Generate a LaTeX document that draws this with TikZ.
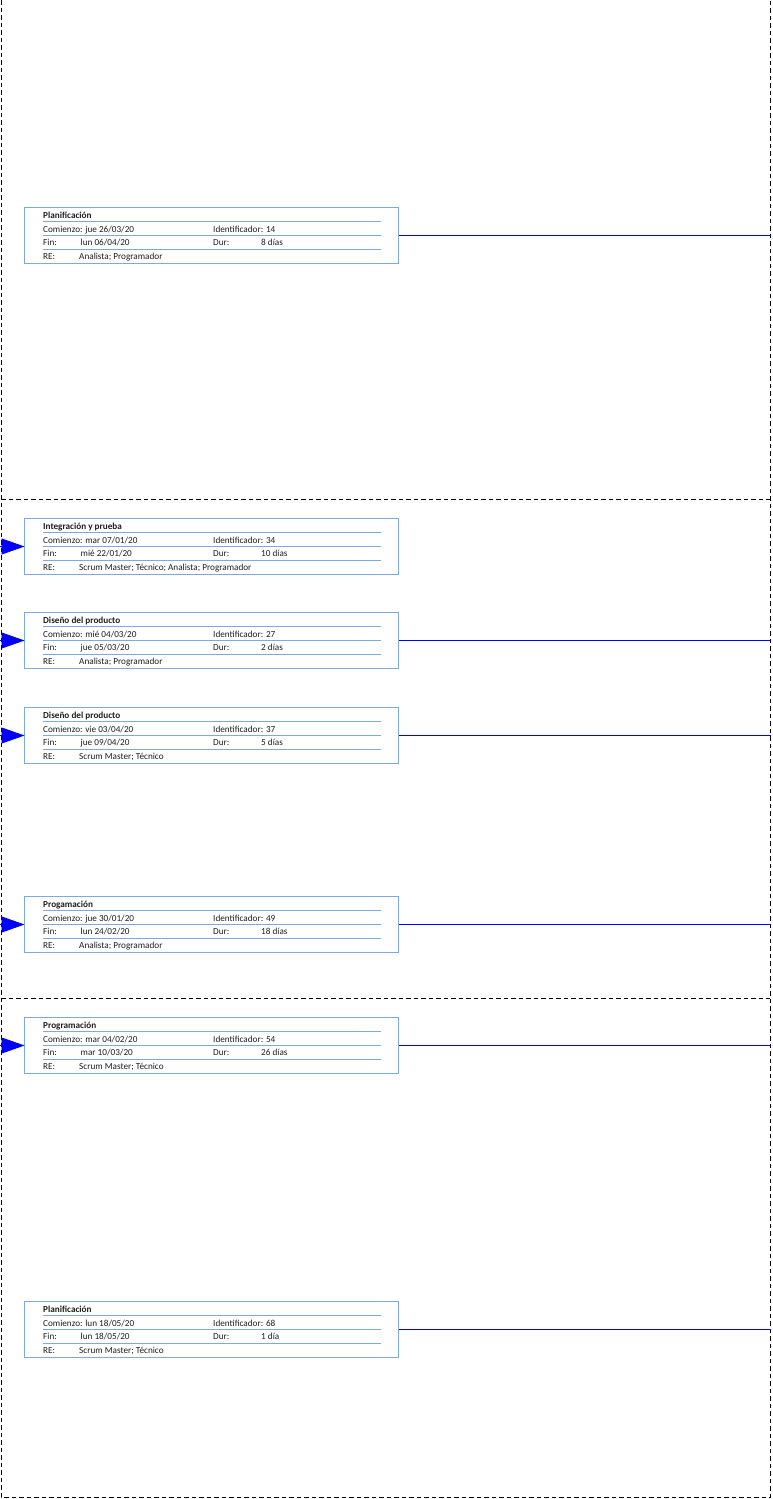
\documentclass[tikz,border=0pt]{standalone}
\usepackage{fontspec}
\setmainfont{Carlito}
\usepackage{xcolor}
\usepackage{tikz}
\usetikzlibrary{arrows.meta,calc,positioning}
\definecolor{boxblue}{RGB}{125,168,226}
\definecolor{linkblue}{RGB}{0,0,255}
\definecolor{textgray}{RGB}{30,30,30}
\newcommand{\tasksize}{\fontsize{9.2}{10}\selectfont}
\tikzstyle{taskbox} = [draw=boxblue, line width=0.8pt, minimum width=374pt, minimum height=56pt, inner sep=0pt, outer sep=0pt, anchor=north west]
\tikzstyle{cell} = [anchor=base west, inner sep=0pt, text=textgray, font=\tasksize]
\tikzstyle{rule} = [draw=boxblue, line width=0.6pt]
\tikzstyle{link} = [draw=linkblue, line width=0.8pt]
\tikzstyle{arrow} = [link, -{Triangle[width=16pt,length=23pt]}]
\tikzstyle{frame} = [draw, dash pattern=on 4.5pt off 3pt, line width=0.9pt]
% #1 name, #2 top, #3 title, #4 comienzo, #5 identificador, #6 fin, #7 dur, #8 recursos
\newcommand{\tarea}[8]{%
  \node[taskbox] (#1) at (24.5,#2) {};
  \node[cell, font=\tasksize\bfseries] (#1-t) at ([shift={(18.5,10.5)}]#1.north west) {#3};
  \node[cell] (#1-c)  at ([shift={(18.5,24.7)}]#1.north west)  {Comienzo: #4};
  \node[cell] (#1-i)  at ([shift={(188.5,24.7)}]#1.north west) {Identificador: #5};
  \node[cell] (#1-fl) at ([shift={(18.5,38)}]#1.north west)    {Fin:};
  \node[cell] (#1-f)  at ([shift={(56,38)}]#1.north west)      {#6};
  \node[cell] (#1-dl) at ([shift={(188.5,38)}]#1.north west)   {Dur:};
  \node[cell] (#1-d)  at ([shift={(236.5,38)}]#1.north west)   {#7};
  \node[cell] (#1-rl) at ([shift={(18.5,52)}]#1.north west)    {RE:};
  \node[cell] (#1-r)  at ([shift={(54.5,52)}]#1.north west)    {#8};
  \foreach \ry in {14,28,41.5}
    \path[rule] ([shift={(18.5,\ry)}]#1.north west) -- ([shift={(356.5,\ry)}]#1.north west);
}
\begin{document}
\begin{tikzpicture}[x=1pt, y=-1pt]
  \useasboundingbox (0,0) rectangle (772,1499);

  % paginas
  \path[frame] (1,0) -- (1,1497) -- (770,1497) -- (770,0);
  \path[frame] (1,499) -- (770,499);
  \path[frame] (1,998) -- (770,998);

  \tarea{tPlanA}{207.5}{Planificación}{jue 26/03/20}{14}{lun 06/04/20}{8 días}{Analista; Programador}
  \tarea{tInteg}{518.5}{Integración y prueba}{mar 07/01/20}{34}{mié 22/01/20}{10 días}{Scrum Master; Técnico; Analista; Programador}
  \tarea{tDisA}{612.5}{Diseño del producto}{mié 04/03/20}{27}{jue 05/03/20}{2 días}{Analista; Programador}
  \tarea{tDisB}{707.5}{Diseño del producto}{vie 03/04/20}{37}{jue 09/04/20}{5 días}{Scrum Master; Técnico}
  \tarea{tProgA}{896.5}{Progamación}{jue 30/01/20}{49}{lun 24/02/20}{18 días}{Analista; Programador}
  \tarea{tProgB}{1017.5}{Programación}{mar 04/02/20}{54}{mar 10/03/20}{26 días}{Scrum Master; Técnico}
  \tarea{tPlanB}{1301.5}{Planificación}{lun 18/05/20}{68}{lun 18/05/20}{1 día}{Scrum Master; Técnico}

  % vinculos desde otras paginas
  \foreach \t in {tInteg,tDisA,tDisB,tProgA,tProgB} {
    \coordinate (\t-in) at (\t.west -| 0,0);
    \path[arrow] (\t-in) -- (\t.west);
  }
  % vinculos hacia otras paginas
  \foreach \t in {tPlanA,tDisA,tDisB,tProgA,tProgB,tPlanB} {
    \coordinate (\t-out) at (\t.east -| 770.5,0);
    \path[link] (\t.east) -- (\t-out);
  }
\end{tikzpicture}
\end{document}
